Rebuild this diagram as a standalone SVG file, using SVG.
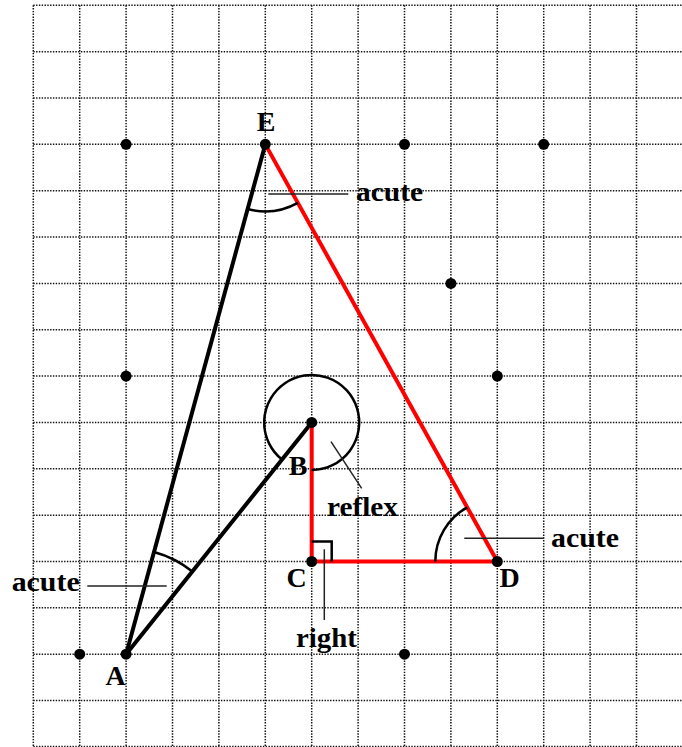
<svg xmlns="http://www.w3.org/2000/svg" width="682" height="747" viewBox="0 0 682 747">
<style>
.grid line{stroke:#111;stroke-width:1.5;stroke-dasharray:1.4 1.4}
.blk{stroke:#000;stroke-width:4;stroke-linecap:round;fill:none}
.red{stroke:#ff0000;stroke-width:4;stroke-linecap:butt;fill:none}
.arc{stroke:#000;stroke-width:2.5;fill:none}
.lead{stroke:#222;stroke-width:1.5;fill:none}
.dot{fill:#000}
text{font-family:"Liberation Serif","Times New Roman",serif;font-weight:bold;font-size:28px;fill:#000}
</style>
<rect width="682" height="747" fill="#fff"/>
<g class="grid" id="grid">
<line x1="33.3" y1="5.3" x2="33.3" y2="747"/>
<line x1="79.7" y1="5.3" x2="79.7" y2="747"/>
<line x1="126.1" y1="5.3" x2="126.1" y2="747"/>
<line x1="172.5" y1="5.3" x2="172.5" y2="747"/>
<line x1="218.9" y1="5.3" x2="218.9" y2="747"/>
<line x1="265.3" y1="5.3" x2="265.3" y2="747"/>
<line x1="311.7" y1="5.3" x2="311.7" y2="747"/>
<line x1="358.1" y1="5.3" x2="358.1" y2="747"/>
<line x1="404.5" y1="5.3" x2="404.5" y2="747"/>
<line x1="450.9" y1="5.3" x2="450.9" y2="747"/>
<line x1="497.3" y1="5.3" x2="497.3" y2="747"/>
<line x1="543.7" y1="5.3" x2="543.7" y2="747"/>
<line x1="590.1" y1="5.3" x2="590.1" y2="747"/>
<line x1="636.5" y1="5.3" x2="636.5" y2="747"/>
<line x1="33.3" y1="5.3" x2="682" y2="5.3"/>
<line x1="33.3" y1="51.65" x2="682" y2="51.65"/>
<line x1="33.3" y1="98" x2="682" y2="98"/>
<line x1="33.3" y1="144.35" x2="682" y2="144.35"/>
<line x1="33.3" y1="190.7" x2="682" y2="190.7"/>
<line x1="33.3" y1="237.05" x2="682" y2="237.05"/>
<line x1="33.3" y1="283.4" x2="682" y2="283.4"/>
<line x1="33.3" y1="329.75" x2="682" y2="329.75"/>
<line x1="33.3" y1="376.1" x2="682" y2="376.1"/>
<line x1="33.3" y1="422.45" x2="682" y2="422.45"/>
<line x1="33.3" y1="468.8" x2="682" y2="468.8"/>
<line x1="33.3" y1="515.15" x2="682" y2="515.15"/>
<line x1="33.3" y1="561.5" x2="682" y2="561.5"/>
<line x1="33.3" y1="607.85" x2="682" y2="607.85"/>
<line x1="33.3" y1="654.2" x2="682" y2="654.2"/>
<line x1="33.3" y1="700.55" x2="682" y2="700.55"/>
<line x1="33.3" y1="746.5" x2="682" y2="746.5"/>
</g>
<g id="connectors">
<line class="blk" x1="265.3" y1="144.35" x2="126.1" y2="654.2"/>
<line class="blk" x1="126.1" y1="654.2" x2="311.7" y2="422.45"/>
<line class="red" x1="311.7" y1="422.45" x2="311.7" y2="561.5"/>
<line class="red" x1="311.7" y1="561.5" x2="497.3" y2="561.5"/>
<line class="red" x1="497.3" y1="561.5" x2="265.3" y2="144.35"/>
</g>
<g id="angle-E">
<path class="arc" d="M247.65,208.99 A67,67 0 0 0 297.87,202.91"/>
<line class="lead" x1="268.3" y1="194" x2="348.3" y2="194"/>
<text x="356" y="200.5" textLength="67" lengthAdjust="spacingAndGlyphs">acute</text>
</g>
<g id="angle-A">
<path class="arc" d="M154.02,551.94 A106,106 0 0 1 192.36,571.46"/>
<line class="lead" x1="87.3" y1="586" x2="166.7" y2="586"/>
<text x="11.7" y="591" textLength="68" lengthAdjust="spacingAndGlyphs">acute</text>
</g>
<g id="angle-B">
<path class="arc" d="M311.7,469.95 A47.5,47.5 0 1 0 282.0,459.53"/>
<line class="lead" x1="331" y1="441.7" x2="361.7" y2="488.3"/>
<text x="327" y="515.5" textLength="71" lengthAdjust="spacingAndGlyphs">reflex</text>
</g>
<g id="angle-C">
<path class="arc" d="M311.7,541.5 H331.7 V561.5"/>
<line class="lead" x1="324.3" y1="549.3" x2="324.3" y2="620"/>
<text x="296" y="647" textLength="61" lengthAdjust="spacingAndGlyphs">right</text>
</g>
<g id="angle-D">
<path class="arc" d="M435.3,561.5 A62,62 0 0 1 467.16,507.31"/>
<line class="lead" x1="464.3" y1="538.3" x2="544" y2="538.3"/>
<text x="551" y="547" textLength="68" lengthAdjust="spacingAndGlyphs">acute</text>
</g>
<g id="node-E"><circle class="dot" cx="265.3" cy="144.35" r="5.5"/><text x="266" y="130.7" text-anchor="middle">E</text></g>
<g id="node-A"><circle class="dot" cx="126.1" cy="654.2" r="5.5"/><text x="115.5" y="685.3" text-anchor="middle">A</text></g>
<g id="node-B"><circle class="dot" cx="311.7" cy="422.45" r="5.5"/><text x="298" y="475" text-anchor="middle">B</text></g>
<g id="node-C"><circle class="dot" cx="311.7" cy="561.5" r="5.5"/><text x="296.7" y="586.7" text-anchor="middle">C</text></g>
<g id="node-D"><circle class="dot" cx="497.3" cy="561.5" r="5.5"/><text x="509.5" y="586.7" text-anchor="middle">D</text></g>
<g id="points">
<circle class="dot" cx="126.1" cy="144.35" r="5.5"/>
<circle class="dot" cx="404.5" cy="144.35" r="5.5"/>
<circle class="dot" cx="543.7" cy="144.35" r="5.5"/>
<circle class="dot" cx="450.9" cy="283.4" r="5.5"/>
<circle class="dot" cx="126.1" cy="376.1" r="5.5"/>
<circle class="dot" cx="497.3" cy="376.1" r="5.5"/>
<circle class="dot" cx="79.7" cy="654.2" r="5.5"/>
<circle class="dot" cx="404.5" cy="654.2" r="5.5"/>
</g>
</svg>
